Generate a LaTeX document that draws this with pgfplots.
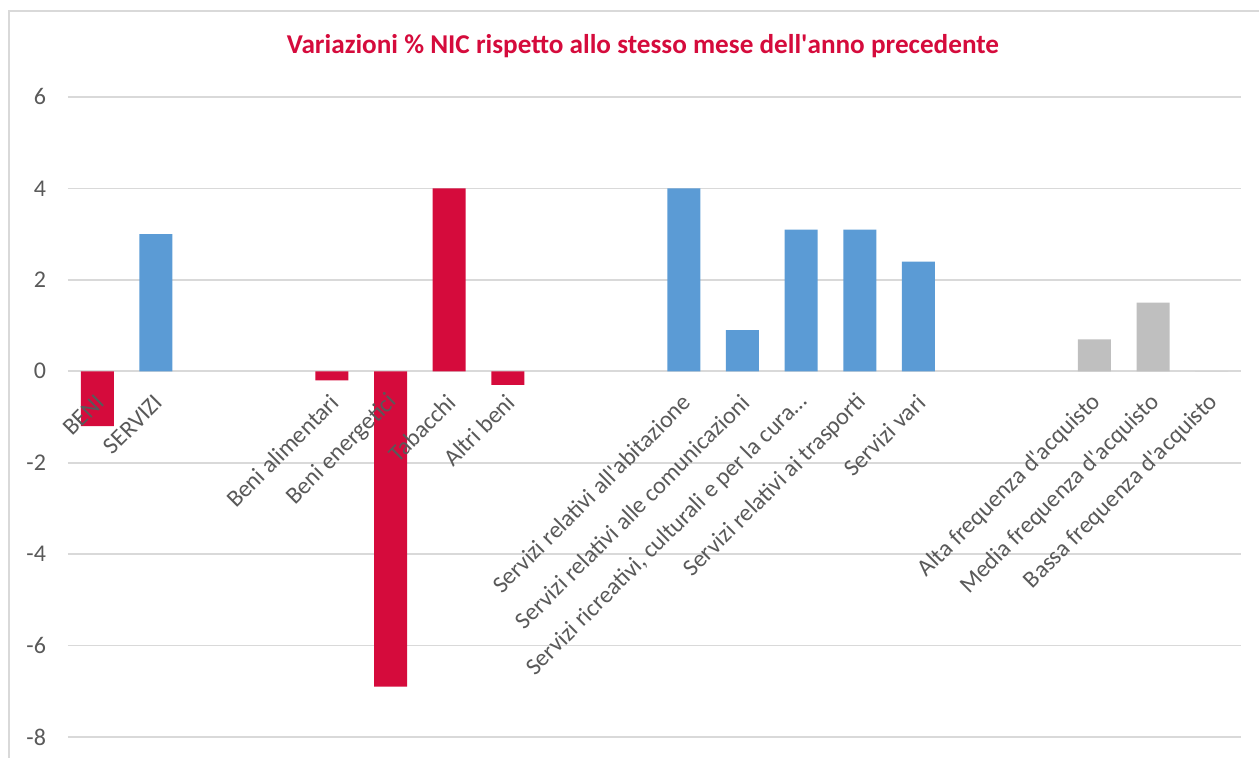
\documentclass[border=0pt]{standalone}
\usepackage{fontspec}
\setmainfont{Carlito}
\usepackage{pgfplots}
\pgfplotsset{compat=1.18}
\definecolor{cred}{HTML}{D50B3C}
\definecolor{cblue}{HTML}{5B9BD5}
\definecolor{cgrey}{HTML}{BFBFBF}
\definecolor{cgrid}{HTML}{D9D9D9}
\definecolor{ctext}{HTML}{595959}
\newcommand{\ap}{\textquotesingle}
\pgfplotsset{
  base/.style={
    at={(34pt,-368.5pt)}, anchor=south west,
    scale only axis, width=586.5pt, height=320pt,
    xmin=-0.5, xmax=19.5, ymin=-8, ymax=6,
    axis x line=middle, axis y line=left,
    axis line style={draw=none},
    ytick={-8,-6,...,6},
    major tick length=0pt,
    /pgf/number format/assume math mode=true,
    yticklabel style={text=ctext, font=\fontsize{12}{14}\selectfont, xshift=-7.5pt},
    clip=false,
  }
}
\begin{document}
\begin{tikzpicture}
\path[use as bounding box] (0,0) rectangle (629.5pt,-379pt);
\draw[cgrid, line width=0.8pt] (4.5pt,-420pt) -- (4.5pt,-5.5pt) -- (700pt,-5.5pt);
\node[text=cred, font=\fontsize{13.6}{16}\selectfont\bfseries] at (321.5pt,-23pt) {Variazioni \% NIC rispetto allo stesso mese dell\ap anno precedente};
\begin{axis}[
  base,
  ymajorgrids, major grid style={cgrid, line width=0.8pt},
  xtick=\empty,
  ybar, bar width=16.5pt,
]
\addplot[fill=cred, draw=none, bar shift=0pt] coordinates {(0,-1.2) (4,-0.2) (5,-6.9) (6,4.0) (7,-0.3)};
\addplot[fill=cblue, draw=none, bar shift=0pt] coordinates {(1,3.0) (10,4.0) (11,0.9) (12,3.1) (13,3.1) (14,2.4)};
\addplot[fill=cgrey, draw=none, bar shift=0pt] coordinates {(17,0.7) (18,1.5) (19,0)};
\end{axis}
\begin{axis}[
  base,
  yticklabels={},
  xtick={0,1,4,5,6,7,10,11,12,13,14,17,18,19},
  xticklabels={BENI,SERVIZI,Beni alimentari,Beni energetici,Tabacchi,Altri beni,Servizi relativi all\ap abitazione,Servizi relativi alle comunicazioni,{Servizi ricreativi, culturali e per la cura\dots},Servizi relativi ai trasporti,Servizi vari,Alta frequenza d\ap acquisto,Media frequenza d\ap acquisto,Bassa frequenza d\ap acquisto},
  xticklabel style={xshift=1.5pt, yshift=-13.5pt, rotate=45, anchor=east, inner sep=0pt, text=ctext, font=\fontsize{12}{14}\selectfont},
]
\end{axis}
\end{tikzpicture}
\end{document}
